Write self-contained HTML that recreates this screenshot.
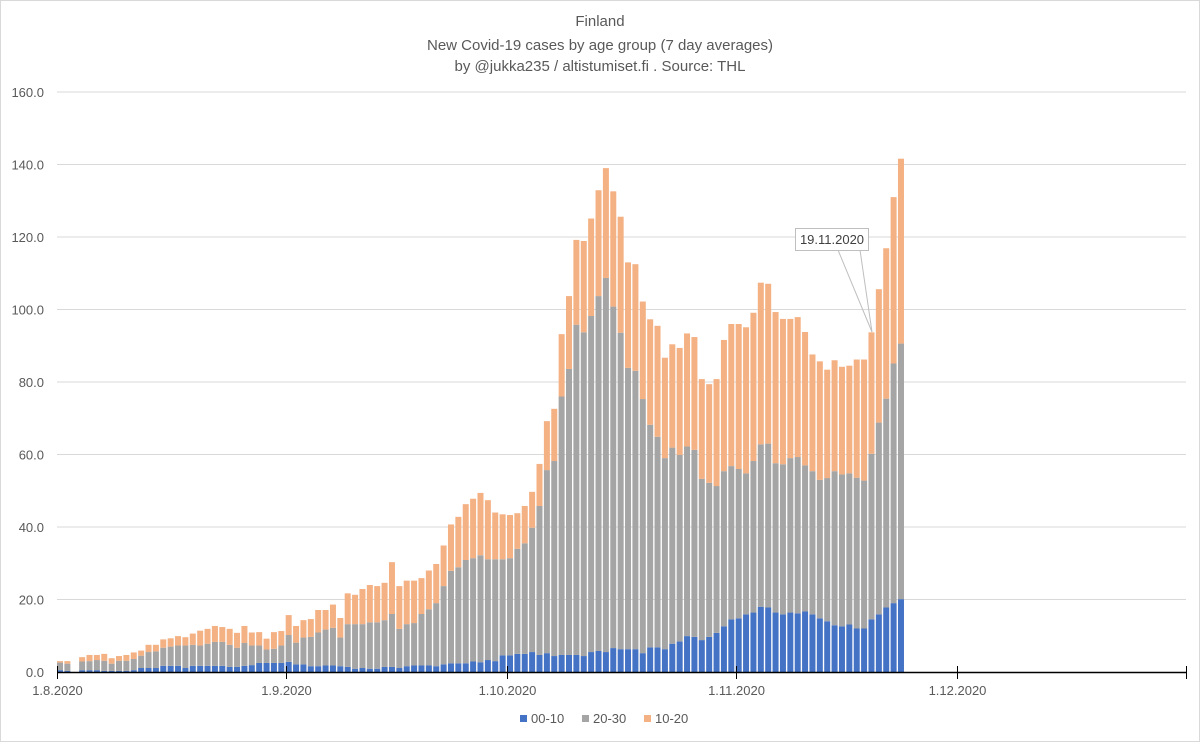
<!DOCTYPE html>
<html><head><meta charset="utf-8"><style>
html,body{margin:0;padding:0;background:#fff;}
svg{display:block;font-family:"Liberation Sans",Calibri,sans-serif;}
</style></head><body>
<svg id="chart" width="1200" height="742" viewBox="0 0 1200 742" xmlns="http://www.w3.org/2000/svg">
<rect x="0.5" y="0.5" width="1199" height="741" fill="#fff" stroke="#d9d9d9"/>
<g fill="#595959" font-size="15" text-anchor="middle">
<text x="600" y="26">Finland</text>
<text x="600" y="50">New Covid-19 cases by age group (7 day averages)</text>
<text x="600" y="71">by @jukka235 / altistumiset.fi  . Source: THL</text>
</g>
<g id="grid"></g>
<g id="ylabels"></g>
<g id="bars"></g>
<g id="xaxis"></g>
<g>
<line x1="838" y1="250" x2="872" y2="332" stroke="#bfbfbf" stroke-width="1"/>
<line x1="860" y1="250" x2="872" y2="332" stroke="#bfbfbf" stroke-width="1"/>
<rect x="795.5" y="228.5" width="73" height="22" fill="#fff" stroke="#bfbfbf"/>
<text x="832" y="244" text-anchor="middle" font-size="13" fill="#404040">19.11.2020</text>
</g>
<g font-size="13" fill="#595959">
<g><rect x="520" y="715" width="7" height="7" fill="#4472c4"/><text x="531" y="723">00-10</text></g>
<g><rect x="582" y="715" width="7" height="7" fill="#a5a5a5"/><text x="593" y="723">20-30</text></g>
<g><rect x="644" y="715" width="7" height="7" fill="#f4b183"/><text x="655" y="723">10-20</text></g>
</g>
</svg>
<script>
const age0010 = [0.5,0.3,0,0.5,0.5,0.5,0.3,0.3,0.3,0.3,0.5,1.1,1.1,1.1,1.7,1.7,1.7,1.1,1.7,1.7,1.7,1.7,1.7,1.4,1.4,1.7,1.9,2.5,2.5,2.5,2.5,2.8,2.1,2.1,1.6,1.6,1.8,1.8,1.6,1.4,0.9,1.1,0.9,0.9,1.4,1.4,1.1,1.6,1.8,1.8,1.8,1.6,2.1,2.4,2.4,2.4,2.9,2.7,3.3,3.0,4.6,4.6,5.0,5.0,5.5,4.7,5.2,4.4,4.7,4.7,4.7,4.4,5.5,5.8,5.5,6.6,6.3,6.3,6.3,5.2,6.8,6.8,6.3,7.8,8.4,9.9,9.7,8.8,9.7,10.8,12.6,14.5,14.8,15.9,16.4,18.0,17.8,16.4,15.9,16.4,16.2,16.7,15.9,14.8,14.0,12.9,12.6,13.1,12.0,12.0,14.5,15.9,17.8,19.0,20.1];
const age2030 = [2.1,2.0,0,2.4,2.5,2.8,2.8,2.0,2.8,2.8,3.1,3.4,4.4,4.6,5.0,5.3,5.6,6.2,5.8,5.6,6.1,6.6,6.6,6.1,5.3,6.3,5.4,4.8,3.7,3.9,4.8,7.4,6.0,7.4,8.1,9.3,9.9,10.4,7.9,11.8,12.3,12.1,12.8,12.8,12.9,14.6,10.8,11.6,11.7,14.2,15.5,17.4,21.6,25.5,26.5,28.5,28.5,29.5,27.8,28.1,26.5,26.8,29.0,30.5,34.3,41.1,50.5,53.8,71.3,78.9,91.1,89.3,92.7,97.9,103.2,94.2,87.3,77.6,76.8,70.1,61.4,58.1,52.7,54.1,51.5,52.3,51.6,44.5,42.5,40.5,42.8,42.3,41.2,38.9,41.8,44.8,45.2,41.2,41.4,42.6,43.1,40.3,39.5,38.2,39.5,42.5,41.9,41.7,41.6,40.8,45.7,52.9,57.6,66.1,70.5];
const age1020 = [0.4,0.7,0,1.2,1.7,1.4,1.9,1.5,1.3,1.6,1.8,1.4,2.0,1.8,2.3,2.3,2.6,2.3,3.1,4.1,4.1,4.4,4.1,4.4,4.1,4.7,3.6,3.7,3.0,4.6,4.0,5.5,4.6,4.8,4.9,6.2,5.4,6.4,5.4,8.5,8.1,9.7,10.3,10.0,10.3,14.3,11.8,12.0,11.7,9.9,10.7,10.8,11.2,12.8,13.9,15.4,16.4,17.2,16.3,12.9,12.4,11.9,9.8,10.3,9.9,11.6,13.5,14.4,17.2,20.1,23.4,25.2,26.9,29.2,30.3,31.8,32.0,29.1,29.4,26.9,29.1,30.6,27.7,28.5,29.5,31.2,31.1,27.5,27.2,29.5,36.2,39.2,40.0,40.3,40.9,44.6,44.1,41.7,40.1,38.4,38.6,36.8,32.2,32.7,29.9,30.6,29.7,29.7,32.6,33.4,33.5,36.8,41.5,45.9,51.0];
const yTicks = [0,20,40,60,80,100,120,140,160];
const xTickLabels = ["1.8.2020","1.9.2020","1.10.2020","1.11.2020","1.12.2020",""];
const xTickDays = [0,31,61,92,122,153];

const NS="http://www.w3.org/2000/svg";
const X0=57, DAY=7.377, Y0=672, PXU=3.625;
const xs=d=>X0+d*DAY;
const ys=v=>Y0-v*PXU;
function mk(tag,attrs,parent){const e=document.createElementNS(NS,tag);for(const k in attrs)e.setAttribute(k,attrs[k]);parent.appendChild(e);return e;}
const grid=document.getElementById('grid'), yl=document.getElementById('ylabels'), bars=document.getElementById('bars'), xa=document.getElementById('xaxis');
yTicks.forEach(t=>{
  if(t>0){const l=mk('line',{x1:X0,x2:1186,y1:ys(t),y2:ys(t),stroke:'#d9d9d9','stroke-width':1},grid);
  
  }
  const tx=mk('text',{x:44,y:ys(t)+5,'text-anchor':'end','font-size':13,fill:'#595959'},yl);
  tx.textContent=t.toFixed(1);
  
  
});
const series=[[age0010,'#4472c4','bar-00-10'],[age2030,'#a5a5a5','bar-20-30'],[age1020,'#f4b183','bar-10-20']];
for(let d=0;d<age0010.length;d++){
  let base=0;
  series.forEach(([arr,col,nm])=>{
    const v=arr[d];
    if(v>0){const r=mk('rect',{x:xs(d),y:ys(base+v),width:6,height:v*PXU,fill:col},bars);
    
    }
    base+=v;
  });
}
const ax=mk('line',{x1:X0,x2:1186,y1:Y0+0.5,y2:Y0+0.5,stroke:'#000','stroke-width':1.5},xa);


xTickDays.forEach((d,i)=>{
  const x=Math.round(xs(d))+0.5;
  const tk=mk('line',{x1:x,x2:x,y1:Y0-6,y2:Y0+7,stroke:'#000','stroke-width':1},xa);
  
  
  if(xTickLabels[i]){
    const t=mk('text',{x:x,y:695,'text-anchor':'middle','font-size':13,fill:'#595959'},xa);
    t.textContent=xTickLabels[i];
    
    
  }
});
</script>
</body></html>
